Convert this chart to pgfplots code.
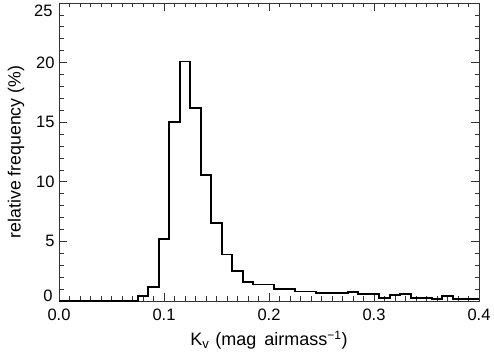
\documentclass[border=0pt]{standalone}
\usepackage{fontspec}
\setmainfont{Liberation Sans}
\usepackage{pgfplots}
\pgfplotsset{compat=1.18}
\begin{document}
\begin{tikzpicture}[x=1pt,y=1pt]
\useasboundingbox (-59,-54) rectangle (435,301);
\begin{axis}[
  at={(0,0)}, anchor=south west,
  scale only axis, width=420pt, height=298pt,
  xmin=0, xmax=0.4, ymin=0, ymax=25,
  xtick={0,0.1,0.2,0.3,0.4},
  xticklabels={0.0,0.1,0.2,0.3,0.4},
  minor x tick num=9,
  ytick={0,5,10,15,20,25},
  yticklabels={,5,10,15,20,},
  minor y tick num=4,
  tick align=inside,
  major tick length=8pt, minor tick length=4.5pt,
  axis line style={line width=0.7pt, black!80},
  every tick/.style={line width=0.7pt, black!80},
  tick label style={font=\fontsize{16.5}{19}\selectfont},
  /pgf/number format/assume math mode=true,
  xticklabel style={yshift=-4.5pt},
  yticklabel style={xshift=-1pt},
  xlabel={K\textsubscript{\fontsize{13}{13}\selectfont v}\hspace{6pt}(mag\hspace{8pt}airmass\textsuperscript{\fontsize{12}{12}\selectfont −1})},
  ylabel={relative frequency (\%)},
  xlabel style={font=\fontsize{18}{21}\selectfont, at={(axis description cs:0.5,0)}, anchor=base, yshift=-45pt},
  ylabel style={font=\fontsize{17.7}{21}\selectfont, at={(axis description cs:-0.1024,0.5)}, anchor=center},
  clip=false,
]
\addplot[const plot mark left, line width=1.8pt, black] coordinates {
(0,0) (0.075,0.4) (0.085,1.18) (0.095,5.2) (0.105,15.0) (0.115,20.1)
(0.125,16.2) (0.135,10.6) (0.145,6.55) (0.155,3.9) (0.165,2.52)
(0.175,1.6) (0.185,1.38) (0.195,1.38) (0.205,1.0) (0.215,1.0)
(0.225,0.79) (0.235,0.79) (0.245,0.65) (0.255,0.65) (0.265,0.65)
(0.275,0.73) (0.285,0.59) (0.295,0.62) (0.305,0.25) (0.315,0.48)
(0.325,0.62) (0.335,0.25) (0.345,0.23) (0.355,0.14) (0.365,0.42)
(0.375,0.14) (0.385,0.14) (0.395,0.14) (0.4,0.14)
};
\node[anchor=east, inner sep=0pt, font=\fontsize{16.5}{19}\selectfont] at ([xshift=-6.3pt,yshift=-8pt]rel axis cs:0,1) {25};
\node[anchor=east, inner sep=0pt, font=\fontsize{16.5}{19}\selectfont] at ([xshift=-6.3pt,yshift=5pt]rel axis cs:0,0) {0};
\end{axis}
\end{tikzpicture}
\end{document}
